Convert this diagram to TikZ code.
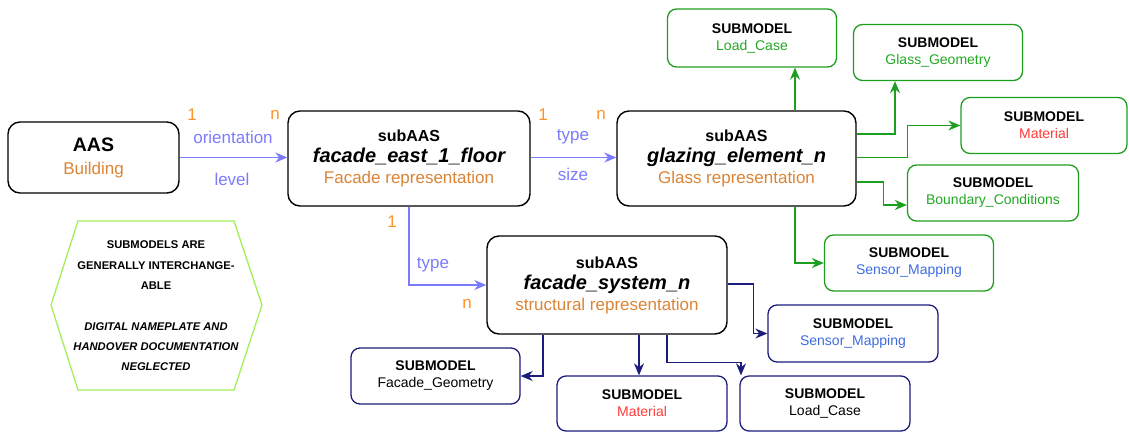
\documentclass[tikz,border=0pt]{standalone}
\usepackage{fontspec}
\setmainfont{Liberation Sans}
\usepackage{tikz}
\usetikzlibrary{positioning,arrows.meta}
\definecolor{aasblue}{HTML}{7B7BFF}
\definecolor{cardorange}{HTML}{FF9226}
\definecolor{repr}{HTML}{DB8436}
\definecolor{smgreen}{HTML}{1E9E1E}
\definecolor{smtxt}{HTML}{22A822}
\definecolor{smnavy}{HTML}{1C1C7C}
\definecolor{matred}{HTML}{FF3A3A}
\definecolor{sensblue}{HTML}{3D6CE0}
\definecolor{hexgreen}{HTML}{A4EE5C}

\begin{document}
\begin{tikzpicture}[x=1pt, y=-1pt,
      aas/.style={draw=black, line width=1.4pt, rounded corners=12pt,
      align=center, inner sep=0pt, font=\fontsize{17}{21}\selectfont},
      sm/.style={rounded corners=9pt, line width=1.3pt, align=center,
      inner sep=0pt, minimum width=169pt, minimum height=56pt,
      font=\fontsize{14}{17}\selectfont},
      smg/.style={sm, draw=smgreen},
      smb/.style={sm, draw=smnavy},
      link/.style={-{Stealth[length=12pt,width=10pt]}, line width=1.4pt},
      card/.style={text=cardorange, font=\fontsize{17}{20}\selectfont},
      rel/.style={text=aasblue, font=\fontsize{17}{20}\selectfont},
    ]
    \useasboundingbox (0,0) rectangle (1129,432);

    % AAS and subAAS
    \node[aas, minimum width=171pt, minimum height=71pt, font=\fontsize{17}{23}\selectfont] (aas) at (93.5,157.5)
      {{\fontsize{19.5}{22}\selectfont\bfseries AAS}\\\textcolor{repr}{Building}};
    \node[aas, minimum width=242pt, minimum height=95pt] (east) at (409,158.5)
      {{\fontsize{16}{19}\selectfont\bfseries subAAS}\\{\fontsize{20}{21}\selectfont\bfseries\itshape facade\_east\_1\_floor}\\\textcolor{repr}{Facade representation}};
    \node[aas, minimum width=239pt, minimum height=95pt] (glazing) at (736.5,158.5)
      {{\fontsize{16}{19}\selectfont\bfseries subAAS}\\{\fontsize{20}{21}\selectfont\bfseries\itshape glazing\_element\_n}\\\textcolor{repr}{Glass representation}};
    \node[aas, minimum width=240pt, minimum height=98pt] (system) at (607,285)
      {{\fontsize{16}{19}\selectfont\bfseries subAAS}\\{\fontsize{20}{21}\selectfont\bfseries\itshape facade\_system\_n}\\\textcolor{repr}{structural representation}};

    % green submodels
    \node[smg, minimum height=58pt] (gload) at (752,38) {\textbf{SUBMODEL}\\\textcolor{smtxt}{Load\_Case}};
    \node[smg] (ggeom) at (938,52.5) {\textbf{SUBMODEL}\\\textcolor{smtxt}{Glass\_Geometry}};
    \node[smg, minimum width=166pt] (gmat) at (1044,125.5) {\textbf{SUBMODEL}\\\textcolor{matred}{Material}};
    \node[smg, minimum width=171pt] (gbound) at (993,193) {\textbf{SUBMODEL}\\\textcolor{smtxt}{Boundary\_Conditions}};
    \node[smg] (gsens) at (909,263) {\textbf{SUBMODEL}\\\textcolor{sensblue}{Sensor\_Mapping}};

    % blue submodels
    \node[smb] (bgeom) at (435.5,376) {\textbf{SUBMODEL}\\Facade\_Geometry};
    \node[smb, minimum width=170pt, minimum height=55pt] (bmat) at (642,403.5) {\textbf{SUBMODEL}\\\textcolor{matred}{Material}};
    \node[smb, minimum width=170pt, minimum height=55pt] (bload) at (825,403.5) {\textbf{SUBMODEL}\\Load\_Case};
    \node[smb, minimum width=170pt, minimum height=57pt] (bsens) at (853,333.5) {\textbf{SUBMODEL}\\\textcolor{sensblue}{Sensor\_Mapping}};

    % relations
    \draw[link, aasblue] (aas.east |- 0,157.5) -- (east.west |- 0,157.5);
    \draw[link, aasblue] (east.east |- 0,157.5) -- (glazing.west |- 0,157.5);
    \draw[link, aasblue] (east.south) |- (system.west);
    \node[card] (c1) at (192,115) {1};
    \node[card] (n1) at (275,115) {n};
    \node[rel] (orient) at (233,137) {orientation};
    \node[rel] (level) at (232,179) {level};
    \node[card] (c2) at (543,115) {1};
    \node[card] (n2) at (601,115) {n};
    \node[rel] (type1) at (573,137) {type};
    \node[rel] (size) at (573,174) {size};
    \node[card] (c3) at (392,222) {1};
    \node[card] (n3) at (467,304) {n};
    \node[rel] (type2) at (433,265) {type};

    \draw[link, smgreen] (glazing.north -| 795,0) -- (gload.south -| 795,0);
    \draw[link, smgreen] (glazing.east |- 0,134) -| (ggeom.south -| 895,0);
    \draw[link, smgreen] (glazing.east |- 0,157.5) -- ++(51,0) |- (gmat.west);
    \draw[link, smgreen] (glazing.east |- 0,182) -- ++(27,0) |- (gbound.west |- 0,205);
    \draw[link, smgreen] (glazing.south -| 795,0) |- (gsens.west);

    \draw[link, smnavy] (system.south -| 543,0) |- (bgeom.east);
    \draw[link, smnavy] (system.south -| 639,0) -- (bmat.north -| 639,0);
    \draw[link, smnavy] (system.south -| 667,0) -- ++(0,28) -| (bload.north -| 741,0);
    \draw[link, smnavy] (system.east |- 0,284) -- ++(26,0) |- (bsens.west);

    % Note
    \draw[line width=1.3pt, hexgreen] (78,221) -- (234,221) -- (262,305) -- (234,390) -- (78,390) -- (51,305) -- cycle;
    \node[align=center, font=\fontsize{11.2}{20.3}\selectfont\bfseries] (note) at (156,306)
      {SUBMODELS ARE\\GENERALLY INTERCHANGE-\\ABLE\\[20.3pt]\itshape DIGITAL NAMEPLATE AND\\\itshape HANDOVER DOCUMENTATION\\\itshape NEGLECTED};
  \end{tikzpicture}
\end{document}
